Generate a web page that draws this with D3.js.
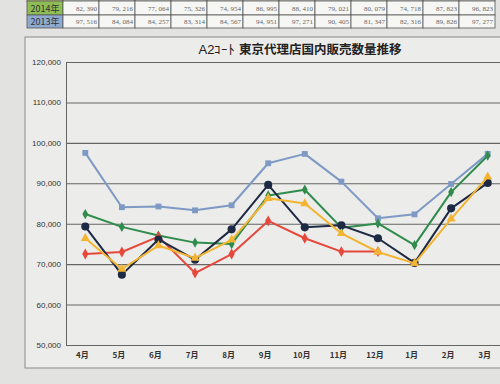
<!DOCTYPE html>
<html>
<head>
<meta charset="utf-8">
<script src="https://cdn.jsdelivr.net/npm/d3@7"></script>
<style>
  html, body { margin: 0; padding: 0; background: #e4e4e2; }
  svg { display: block; }
</style>
</head>
<body>
<div id="chart"></div>
<script>
/* monthly domestic sales volume, Tokyo agency (fiscal year Apr - Mar) */
var months = ['4月', '5月', '6月', '7月', '8月', '9月', '10月', '11月', '12月', '1月', '2月', '3月'];
var yTicks = [50000, 60000, 70000, 80000, 90000, 100000, 110000, 120000];

var tableYears = ['2014年', '2013年'];
var fy2013 = [97516, 84084, 84257, 83314, 84567, 94951, 97271, 90405, 81347, 82316, 89826, 97277];
var fy2014 = [82390, 79216, 77064, 75326, 74954, 86995, 88410, 79021, 80079, 74718, 87823, 96823];
var fy2015 = [79300, 67400, 76100, 71100, 78600, 89600, 79100, 79600, 76400, 70300, 83800, 90100];
var fy2016 = [76400, 68800, 74600, 71500, 76000, 86300, 85000, 77600, 73000, 70200, 81200, 91600];
var fy2017 = [72500, 73000, 76800, 67800, 72500, 80700, 76400, 73100, 73100];

var W = 500, H = 384;
var MINCHO = '"Noto Sans CJK JP", "DejaVu Sans", sans-serif';
var SANS = '"Liberation Sans", Arial, sans-serif';

var svg = d3.select('#chart').append('svg')
  .attr('width', W).attr('height', H);

/* paper */
svg.append('rect').attr('width', W).attr('height', H).attr('fill', '#e2e2e0');

/* ---- table strip at the top ---- */
var tRows = [
  { label: '', fill: '#efe08a', vals: null },
  { label: tableYears[0], fill: '#8fbd55', vals: fy2014 },
  { label: tableYears[1], fill: '#8eaad0', vals: fy2013 }
];
var rowY = [-12, 1, 15], rowH = [13, 14, 13];
var colX = 63, colW = 36, hdrX = 27;

tRows.forEach(function (r, i) {
  svg.append('rect').attr('x', hdrX).attr('y', rowY[i])
    .attr('width', colX - hdrX).attr('height', rowH[i])
    .attr('fill', r.fill).attr('stroke', '#555').attr('stroke-width', 0.8);
  if (r.label) {
    svg.append('text').attr('x', (hdrX + colX) / 2).attr('y', rowY[i] + rowH[i] - 3.5)
      .attr('text-anchor', 'middle').attr('font-family', MINCHO)
      .attr('font-size', 9).attr('fill', '#333').text(r.label);
  }
  months.forEach(function (m, j) {
    var x = colX + j * colW;
    svg.append('rect').attr('x', x).attr('y', rowY[i])
      .attr('width', colW).attr('height', rowH[i])
      .attr('fill', '#f6f6f4').attr('stroke', '#555').attr('stroke-width', 0.8);
    if (r.vals) {
      svg.append('text').attr('x', x + colW - 2).attr('y', rowY[i] + rowH[i] - 4)
        .attr('text-anchor', 'end').attr('font-family', '"Liberation Serif", serif')
        .attr('font-size', 7).attr('fill', '#666')
        .text(d3.format(',')(r.vals[j]).replace(',', ', '));
    }
  });
});

/* ---- chart frame ---- */
svg.append('rect').attr('x', 25).attr('y', 37).attr('width', 500).attr('height', 331)
  .attr('fill', '#ececea').attr('stroke', '#8a8a8a').attr('stroke-width', 1);

var plot = { left: 66, right: 506, top: 62, bottom: 345 };

var x = d3.scaleBand().domain(months).range([plot.left + 1, plot.right]);
var y = d3.scaleLinear().domain([50000, 120000]).range([plot.bottom, plot.top]);
var cx = function (i) { return x(months[i]) + x.bandwidth() / 2; };

/* title */
var title = svg.append('text').attr('x', 300).attr('y', 54)
  .attr('text-anchor', 'middle').attr('font-family', MINCHO)
  .attr('font-size', 12.5).attr('fill', '#222');
title.append('tspan').attr('font-family', SANS).attr('font-size', 13).text('A2ｺｰﾄ  ');
title.append('tspan').attr('font-weight', 'bold').text('東京代理店国内販売数量推移');

/* gridlines + y axis */
var yAxis = d3.axisLeft(y).tickValues(yTicks).tickSize(-(plot.right - plot.left))
  .tickFormat(d3.format(','));
var gy = svg.append('g').attr('transform', 'translate(' + plot.left + ',0)').call(yAxis);
gy.select('.domain').attr('stroke', '#666');
gy.selectAll('.tick line').attr('stroke', '#666').attr('stroke-width', 1.1);
gy.selectAll('.tick text').attr('x', -5).attr('font-family', SANS)
  .attr('font-size', 8).attr('fill', '#333');

/* x axis labels */
var xAxis = d3.axisBottom(x).tickSize(0).tickPadding(7);
var gx = svg.append('g').attr('transform', 'translate(-3,' + plot.bottom + ')').call(xAxis);
gx.select('.domain').remove();
gx.selectAll('.tick text').attr('font-family', MINCHO).attr('font-weight', 'bold')
  .attr('font-size', 8).attr('fill', '#333');

/* ---- series ---- */
var line = d3.line().x(function (d, i) { return cx(i); }).y(function (d) { return y(d); });

var series = [
  { vals: fy2013, color: '#7d99c4', shape: d3.symbolSquare, size: 34 },
  { vals: fy2014, color: '#2f8c4c', shape: d3.symbolDiamond, size: 30 },
  { vals: fy2017, color: '#e6483b', shape: d3.symbolDiamond, size: 34 },
  { vals: fy2015, color: '#1e2a44', shape: d3.symbolCircle, size: 52 },
  { vals: fy2016, color: '#f2b431', shape: d3.symbolTriangle, size: 36 }
];

series.forEach(function (s) {
  var g = svg.append('g');
  g.append('path').datum(s.vals).attr('d', line)
    .attr('fill', 'none').attr('stroke', s.color).attr('stroke-width', 2)
    .attr('stroke-linejoin', 'round');
  g.selectAll('path.pt').data(s.vals).enter().append('path').attr('class', 'pt')
    .attr('d', d3.symbol().type(s.shape).size(s.size))
    .attr('transform', function (d, i) { return 'translate(' + cx(i) + ',' + y(d) + ')'; })
    .attr('fill', s.color);
});
</script>
</body>
</html>
